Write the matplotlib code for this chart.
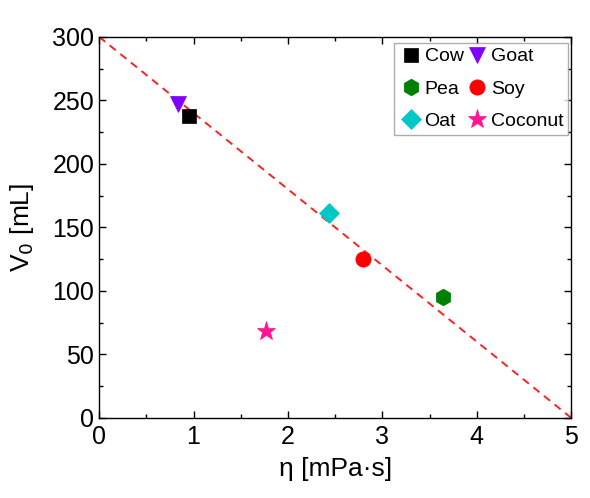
import numpy as np
import matplotlib.pyplot as plt
from matplotlib.ticker import MultipleLocator

plt.rcParams['font.family'] = ['Liberation Sans', 'DejaVu Sans']

names = ["Cow", "Goat", "Pea", "Soy", "Oat", "Coconut"]
eta = [0.95, 0.84, 3.64, 2.80, 2.44, 1.77]
v0 = [238, 247, 95, 125, 161, 68]
markers = ["s", "v", "h", "o", "D", "*"]
colors = ["#000000", "#8000ff", "#007f00", "#ff0000", "#00c8c8", "#ff1493"]
sizes = [10, 12, 12, 11, 10, 14]

fit_x = [0, 5]
fit_y = [300, 0]

fig = plt.figure(figsize=(5.9, 4.98), dpi=100)
ax = fig.add_axes([0.168, 0.161, 0.800, 0.765])

ax.plot(fit_x, fit_y, "--", color="#ff2020", lw=1.4, dashes=(4, 3), zorder=1)
handles = {}
for n, x, y, m, c, s in zip(names, eta, v0, markers, colors, sizes):
    h, = ax.plot(x, y, linestyle="none", marker=m, color=c, ms=s, mec=c, mew=0.5,
                 label=n, zorder=3)
    handles[n] = h

ax.set_xlim(0, 5)
ax.set_ylim(0, 300)
ax.xaxis.set_major_locator(MultipleLocator(1))
ax.xaxis.set_minor_locator(MultipleLocator(0.5))
ax.yaxis.set_major_locator(MultipleLocator(50))
ax.yaxis.set_minor_locator(MultipleLocator(25))
ax.tick_params(which="both", direction="in", top=True, right=True, labelsize=18, width=1)
ax.tick_params(which="major", length=5)
ax.tick_params(which="minor", length=3)
ax.tick_params(axis="x", pad=5)
for sp in ax.spines.values():
    sp.set_linewidth(1.0)

ax.set_xlabel("η [mPa·s]", fontsize=19, labelpad=6)
ax.set_ylabel("V$_0$ [mL]", fontsize=19, labelpad=12)

# row-major order as in the original: column 1 then column 2
order = ["Cow", "Pea", "Oat", "Goat", "Soy", "Coconut"]
leg = ax.legend([handles[n] for n in order], order, ncol=2, loc="upper right",
                fontsize=14, frameon=True, fancybox=False,
                edgecolor="#999999", handletextpad=0.1, columnspacing=0.1,
                borderpad=0.25, labelspacing=0.75, handlelength=1.2,
                borderaxespad=0, bbox_to_anchor=(0.994, 0.984))
leg.get_frame().set_linewidth(1.0)

plt.savefig("out.png", dpi=100)
